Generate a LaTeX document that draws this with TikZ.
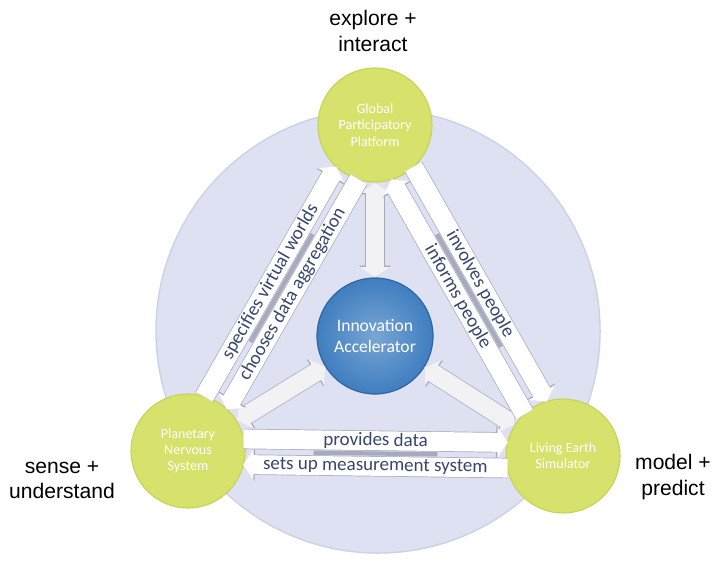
\documentclass[tikz,border=0pt]{standalone}
\usepackage{fontspec}
\setmainfont{Carlito}
\newfontfamily\cornerfont{Liberation Sans}
\usetikzlibrary{arrows.meta, calc}

\definecolor{discfill}{HTML}{DDE1F2}
\definecolor{discrim}{HTML}{CDD1E6}
\definecolor{lime}{HTML}{D6E26C}
\definecolor{limerim}{HTML}{C6D357}
\definecolor{accel}{HTML}{3F7EC0}
\definecolor{accelrim}{HTML}{2F649E}
\definecolor{bandtext}{HTML}{37466E}
\definecolor{bandrim}{HTML}{A6AABD}
\definecolor{linkfill}{HTML}{F2F2F4}

\tikzstyle{backdisc} = [circle, minimum size=11.1cm, inner sep=0pt, fill=discfill, draw=discrim, line width=1pt]
\tikzstyle{pillar} = [circle, minimum size=2.85cm, inner sep=0pt, align=center, text=white, fill=lime, draw=limerim, line width=0.8pt, font=\fontsize{10}{11.5}\selectfont]
\tikzstyle{hub} = [circle, minimum size=2.9cm, inner sep=0pt, align=center, text=white, inner color=accel!70!white, outer color=accel, draw=accelrim, line width=0.8pt, font=\fontsize{12.5}{14.5}\selectfont]
\tikzstyle{corner} = [align=center, font=\cornerfont\fontsize{15}{18}\selectfont]
\tikzstyle{seam} = [line width=3pt, draw=bandrim, shorten >=1.7cm, shorten <=1.7cm]
\tikzstyle{bandlabel} = [sloped, midway, inner sep=0pt, text=bandtext, font=\fontsize{13.5}{15}\selectfont]
\tikzset{
	fwdband/.style = {line width=13.5pt, draw=white, shorten >=1.38cm, shorten <=1.38cm,
		-{Triangle[length=7.4pt, width=21pt]},
		preaction={draw=bandrim, line width=14.5pt, -{Triangle[length=8.4pt, width=22.5pt]}}},
	backband/.style = {line width=13.5pt, draw=white, shorten >=1.38cm, shorten <=1.38cm,
		{Triangle[length=7.4pt, width=21pt]}-,
		preaction={draw=bandrim, line width=14.5pt, {Triangle[length=8.4pt, width=22.5pt]}-}},
	link/.style = {line width=13pt, draw=linkfill,
		{Triangle[length=7.4pt, width=21pt]}-{Triangle[length=7.4pt, width=21pt]},
		preaction={draw=bandrim, line width=14pt,
			{Triangle[length=8.4pt, width=22.5pt]}-{Triangle[length=8.4pt, width=22.5pt]}}}
}

\begin{document}
\begin{tikzpicture}[x=0.025cm, y=-0.025cm]
\useasboundingbox (0,0) rectangle (715,565);

% Placement of nodes
\node (disc) [backdisc] at (378,331) {};
\node (gpp) [pillar] at (375,125) {Global\\Participatory\\Platform};
\node (ppl) [pillar] at (188,451) {Planetary\\Nervous\\System};
\node (les) [pillar] at (563,456) {Living Earth\\Simulator};
\node (ia) [hub] at (375,336) {Innovation\\Accelerator};

% corner labels
\node (explore) [corner] at (373,31) {explore +\\interact};
\node (sense) [corner] at (62,480) {sense +\\understand};
\node (model) [corner] at (673,477) {model +\\predict};

% band ends, 0.32cm either side of the centre lines
\coordinate (pgUa) at ($(ppl)!0.32cm!90:(gpp)$);
\coordinate (pgUb) at ($(gpp)!0.32cm!-90:(ppl)$);
\coordinate (pgLa) at ($(ppl)!0.32cm!-90:(gpp)$);
\coordinate (pgLb) at ($(gpp)!0.32cm!90:(ppl)$);
\coordinate (glUa) at ($(gpp)!0.32cm!90:(les)$);
\coordinate (glUb) at ($(les)!0.32cm!-90:(gpp)$);
\coordinate (glLa) at ($(gpp)!0.32cm!-90:(les)$);
\coordinate (glLb) at ($(les)!0.32cm!90:(gpp)$);
\coordinate (plUa) at ($(ppl)!0.32cm!90:(les)$);
\coordinate (plUb) at ($(les)!0.32cm!-90:(ppl)$);
\coordinate (plLa) at ($(ppl)!0.32cm!-90:(les)$);
\coordinate (plLb) at ($(les)!0.32cm!90:(ppl)$);

% Placement of edges
% links to the accelerator
\draw [link] (gpp) -- (ia);
\draw [link] (ppl) -- (ia);
\draw [link] (les) -- (ia);

% planetary <-> global
\draw [seam] (ppl) -- (gpp);
\draw [fwdband] (pgUa) -- node[bandlabel] {specifies virtual worlds} (pgUb);
\draw [backband] (pgLa) -- node[bandlabel] {chooses data aggregation} (pgLb);
% global <-> living earth
\draw [seam] (gpp) -- (les);
\draw [fwdband] (glUa) -- node[bandlabel] {involves people} (glUb);
\draw [backband] (glLa) -- node[bandlabel] {informs people} (glLb);
% planetary <-> living earth
\draw [seam] (ppl) -- (les);
\draw [fwdband] (plUa) -- node[bandlabel] {provides data} (plUb);
\draw [backband] (plLa) -- node[bandlabel] {sets up measurement system} (plLb);

\end{tikzpicture}
\end{document}
